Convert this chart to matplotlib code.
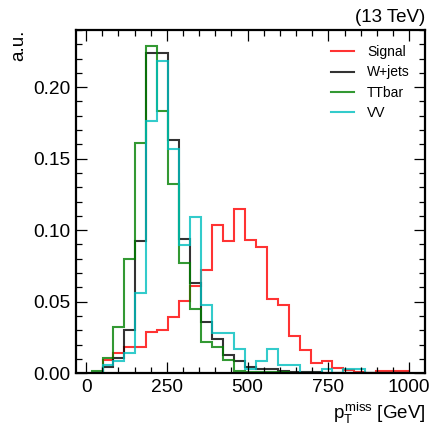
import numpy as np
import matplotlib
matplotlib.use("Agg")
import matplotlib.pyplot as plt
from matplotlib.ticker import MultipleLocator

# binning
bin_lo, bin_hi, n_bins = 17.0, 1000.0, 29

labels = ["Signal", "W+jets", "TTbar", "VV"]
colors = ["r", "k", "g", "c"]

signal = [0.0, 0.0093, 0.0138, 0.0184, 0.0184, 0.0287, 0.0300, 0.0394, 0.0506, 0.0610,
          0.0723, 0.1037, 0.0924, 0.1148, 0.0930, 0.0883, 0.0515, 0.0476, 0.0263, 0.0161,
          0.0071, 0.0086, 0.0037, 0.0020, 0.0010, 0.0, 0.0016, 0.0016, 0.0016]
wjets = [0.0, 0.0044, 0.0107, 0.0303, 0.0925, 0.2238, 0.2238, 0.1627, 0.0938, 0.0632,
         0.0359, 0.0242, 0.0125, 0.0088, 0.0044, 0.0030, 0.0030, 0.0014, 0.0007, 0.0007,
         0.0007, 0.0, 0.0, 0.0, 0.0, 0.0, 0.0, 0.0, 0.0]
ttbar = [0.0016, 0.0107, 0.0326, 0.0800, 0.1610, 0.2290, 0.1830, 0.1320, 0.0773, 0.0446,
         0.0219, 0.0184, 0.0091, 0.0016, 0.0010, 0.0007, 0.0005, 0.0005, 0.0, 0.0,
         0.0, 0.0, 0.0, 0.0, 0.0, 0.0, 0.0, 0.0, 0.0]
vv = [0.0, 0.0060, 0.0084, 0.0142, 0.0560, 0.1765, 0.2182, 0.1570, 0.0895, 0.1093,
      0.0478, 0.0282, 0.0282, 0.0169, 0.0030, 0.0086, 0.0170, 0.0060, 0.0060, 0.0,
      0.0, 0.0030, 0.0, 0.0030, 0.0030, 0.0, 0.0, 0.0, 0.0]

series = [signal, wjets, ttbar, vv]

plt.rcParams['font.family'] = ['Liberation Sans', 'DejaVu Sans']
plt.rcParams['mathtext.fontset'] = 'custom'
plt.rcParams['mathtext.rm'] = 'Liberation Sans'
plt.rcParams['mathtext.it'] = 'Liberation Sans'

fig = plt.figure(figsize=(4.4, 4.4), dpi=100)
ax = fig.add_axes([0.172, 0.152, 0.794, 0.780])

edges = np.linspace(bin_lo, bin_hi, n_bins + 1)
for vals, lab, col in zip(series, labels, colors):
    ax.stairs(vals, edges, color=col, alpha=0.8, lw=1.5, label=lab)

ax.set_ylim(0, 0.24)
ax.margins(x=0.05)

ax.xaxis.set_major_locator(MultipleLocator(250))
ax.xaxis.set_minor_locator(MultipleLocator(50))
ax.yaxis.set_major_locator(MultipleLocator(0.05))
ax.yaxis.set_minor_locator(MultipleLocator(0.01))
ax.tick_params(which='both', direction='in', top=True, right=True, labelsize=13.8, pad=4)
ax.tick_params(which='major', length=8, width=0.9)
ax.tick_params(which='minor', length=4.5, width=0.9)
for s in ax.spines.values():
    s.set_linewidth(1.6)

ax.set_xlabel(r"$p_{\mathrm{T}}^{\mathrm{miss}}$ [GeV]", loc='right', fontsize=13.5)
ax.set_ylabel("a.u.", loc='top', fontsize=13.5)
ax.text(1.0, 1.01, "(13 TeV)", transform=ax.transAxes, ha='right', va='bottom', fontsize=13.5)

leg = ax.legend(loc='upper right', fontsize=10, frameon=False, handlelength=1.65,
                handletextpad=0.95, borderaxespad=0.7, labelspacing=0.45)

fig.savefig("out.png", dpi=100)
